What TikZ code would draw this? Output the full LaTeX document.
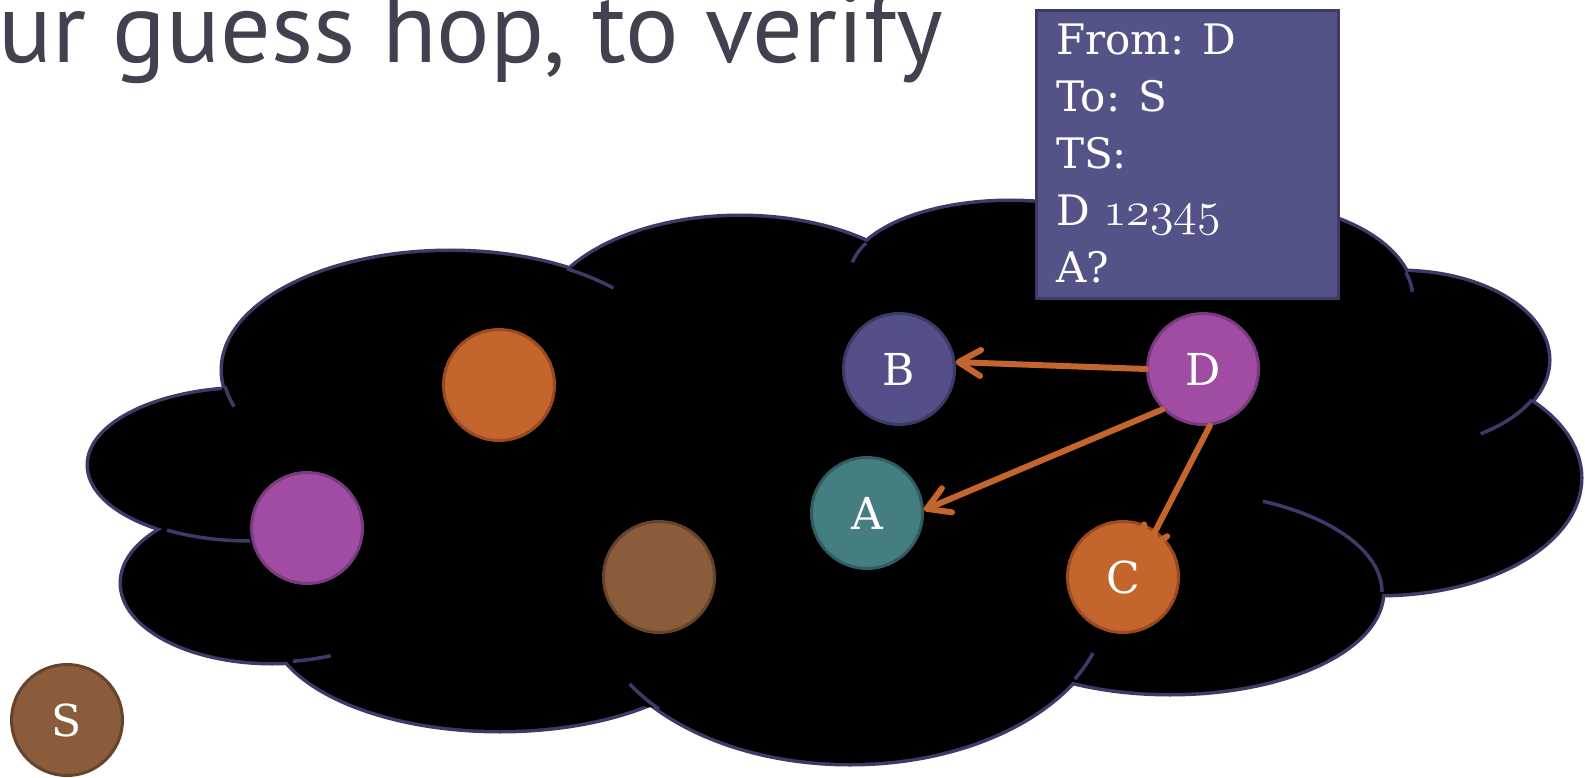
\documentclass[tikz,border=0pt]{standalone}
\usepackage{fontspec}
\newfontfamily\titlefont{PT Sans}
\newfontfamily\labelfont{DejaVu Serif}
\usetikzlibrary{arrows.meta}
% old-style figures, taken from the math italic font at its largest size
\newcommand{\osfigs}[1]{\scalebox{1.93}{\fontsize{24.88}{30}\selectfont$\mathnormal{#1}$}}

\definecolor{cloudline}{HTML}{3C3A69}
\definecolor{titlegray}{HTML}{41414F}
\definecolor{boxfill}{HTML}{535388}
\definecolor{boxline}{HTML}{3D3B66}
\definecolor{nodeblue}{HTML}{534F88}
\definecolor{nodeblueline}{HTML}{3D3A68}
\definecolor{nodepurple}{HTML}{A04CA2}
\definecolor{nodepurpleline}{HTML}{7A3A80}
\definecolor{nodeteal}{HTML}{457E80}
\definecolor{nodetealline}{HTML}{305E60}
\definecolor{nodeorange}{HTML}{C4652E}
\definecolor{nodeorangeline}{HTML}{9B4A1F}
\definecolor{nodebrown}{HTML}{8A5C3B}
\definecolor{nodebrownline}{HTML}{66432A}
\definecolor{arrowc}{HTML}{C4652E}

\begin{document}
\begin{tikzpicture}[x=1pt,y=-1pt,
  peer/.style={circle, minimum size=111pt, inner sep=0pt, line width=3pt,
    text=white, font=\labelfont\fontsize{44}{52}\selectfont},
  blue peer/.style={peer, fill=nodeblue, draw=nodeblueline},
  purple peer/.style={peer, fill=nodepurple, draw=nodepurpleline},
  teal peer/.style={peer, fill=nodeteal, draw=nodetealline},
  orange peer/.style={peer, fill=nodeorange, draw=nodeorangeline},
  brown peer/.style={peer, fill=nodebrown, draw=nodebrownline},
  hop/.style={draw=arrowc, line width=6pt, line cap=round,
    -{Straight Barb[length=22pt,width=26pt,round]}},
  stub/.style={draw=cloudline, line width=3.5pt},
]
\useasboundingbox (0,0) rectangle (1585,778);

% ---- cloud: lobes as ellipses (centre x / centre y / x radius / y radius)
\def\lobes{250/465/161/76, 450/370/227/118, 740/328/200/111,
  1010/275/160/73, 1250/300/163/95, 1400/360/148/88, 1380/478/200/116,
  1170/592/212/101, 850/600/257/163, 500/620/230/110, 272/583/150/79}
% outline: wide stroke, inner half hidden by the fill below
\foreach \cx/\cy/\rx/\ry in \lobes
  \draw[cloudline, line width=7pt] (\cx,\cy) ellipse [x radius=\rx pt, y radius=\ry pt];
\foreach \cx/\cy/\rx/\ry in \lobes
  \fill[black] (\cx,\cy) ellipse [x radius=\rx pt, y radius=\ry pt];
\fill[black] (223,388) -- (573,267) -- (863,243) -- (1120,260) -- (1413,273)
  -- (1530,400) -- (1380,592) -- (1075,678) -- (656,708) -- (291,660)
  -- (165,532) -- cycle;
% inner arc ends of the lobes
\foreach \cx/\cy/\rx/\ry/\a/\b in {
  250/465/161/76/90/121, 450/370/227/118/162/172, 450/370/227/118/-59/-44,
  1010/275/160/73/190/206, 1250/300/163/95/-17/-5, 1400/360/148/88/27/57,
  1170/592/212/101/-64/0, 850/600/257/163/19/29, 850/600/257/163/138/149,
  272/583/150/79/67/82}
  \draw[stub] plot[domain=\a:\b, samples=30, variable=\t]
    ({\cx+\rx*cos(\t)}, {\cy+\ry*sin(\t)});

% ---- title
\node (title) [anchor=base west, inner sep=0pt, text=titlegray,
  font=\titlefont\fontsize{100}{120}\selectfont] at (-2,63) {ur guess hop, to verify};

% ---- message box
\node (msgbox) [draw=boxline, fill=boxfill, line width=3pt, inner sep=0pt,
  minimum width=302pt, minimum height=287pt, anchor=north west] at (1034.5,9.5) {};
\node (msg) [anchor=north west, inner sep=0pt, align=left, text=white,
  font=\labelfont\fontsize{42}{57}\selectfont] at (1056,24)
  {From: D\\To: S\\TS:\\D \osfigs{12345}\\A?};

% ---- peers
\node (o1) [orange peer] at (499,385) {};
\node (p1) [purple peer] at (307,528) {};
\node (b1) [brown peer] at (659,577) {};
\node (B) [blue peer] at (899,369) {B};
\node (D) [purple peer] at (1203,369) {D};
\node (A) [teal peer] at (867,513) {A};
\node (C) [orange peer] at (1123,577) {C};
\node (S) [brown peer] at (67,720) {S};

% ---- forwarded requests
\draw[hop] (D.west) -- (B.7);
\draw[hop] (D.225) -- (A.3);
\draw[hop, shorten >=-25pt] (D.277) -- (C.55);
\end{tikzpicture}
\end{document}
